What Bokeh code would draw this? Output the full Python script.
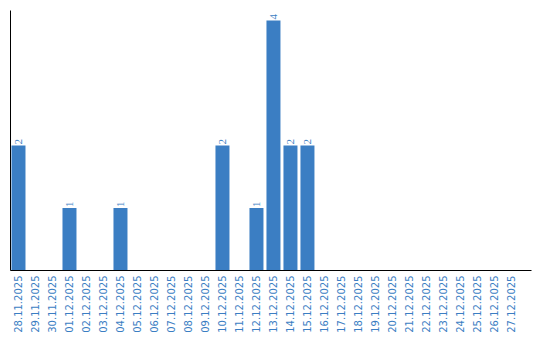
import math
from bokeh.plotting import figure
from bokeh.models import ColumnDataSource, LabelSet, FixedTicker, Range1d
from bokeh.embed import file_html
from bokeh.resources import INLINE

dates = ["28.11.2025", "29.11.2025", "30.11.2025", "01.12.2025", "02.12.2025",
         "03.12.2025", "04.12.2025", "05.12.2025", "06.12.2025", "07.12.2025",
         "08.12.2025", "09.12.2025", "10.12.2025", "11.12.2025", "12.12.2025",
         "13.12.2025", "14.12.2025", "15.12.2025", "16.12.2025", "17.12.2025",
         "18.12.2025", "19.12.2025", "20.12.2025", "21.12.2025", "22.12.2025",
         "23.12.2025", "24.12.2025", "25.12.2025", "26.12.2025", "27.12.2025"]
counts = [2, 0, 0, 1, 0, 0, 1, 0, 0, 0, 0, 0, 2, 0, 1, 4, 2, 2, 0, 0,
          0, 0, 0, 0, 0, 0, 0, 0, 0, 0]

BLUE = "#3b7ec3"
xs = list(range(len(dates)))

p = figure(width=540, height=340, output_backend="svg", toolbar_location=None,
           x_range=Range1d(-0.47, 30.18), y_range=Range1d(0, 4.16),
           min_border_left=10, min_border_right=9, min_border_top=10,
           min_border_bottom=70)
p.outline_line_color = None
p.xgrid.visible = False
p.ygrid.visible = False

src = ColumnDataSource(dict(x=xs, top=counts))
p.vbar(x="x", top="top", width=14 / 17, bottom=0, source=src,
       fill_color=BLUE, line_color=None)

lx = [x for x, c in zip(xs, counts) if c > 0]
ly = [c for c in counts if c > 0]
lsrc = ColumnDataSource(dict(x=lx, y=ly, t=[str(c) for c in ly]))
p.add_layout(LabelSet(x="x", y="y", text="t", source=lsrc, angle=math.pi / 2,
                      text_align="left", text_baseline="middle", y_offset=1,
                      text_font="DejaVu Sans", text_font_size="11px",
                      text_color=BLUE))

xa = p.xaxis[0]
xa.ticker = FixedTicker(ticks=xs)
xa.major_label_overrides = {i: d for i, d in enumerate(dates)}
xa.major_label_orientation = math.pi / 2
xa.major_tick_line_color = None
xa.minor_tick_line_color = None
xa.major_tick_out = 0
xa.major_label_standoff = 5
xa.major_label_text_font = "DejaVu Sans"
xa.major_label_text_font_size = "10px"
xa.major_label_text_color = BLUE
xa.axis_line_color = "black"

ya = p.yaxis[0]
ya.ticker = FixedTicker(ticks=[])
ya.major_tick_line_color = None
ya.minor_tick_line_color = None
ya.major_tick_out = 0
ya.major_label_standoff = 0
ya.axis_line_color = "black"

open("out.html", "w").write(file_html(p, INLINE))
